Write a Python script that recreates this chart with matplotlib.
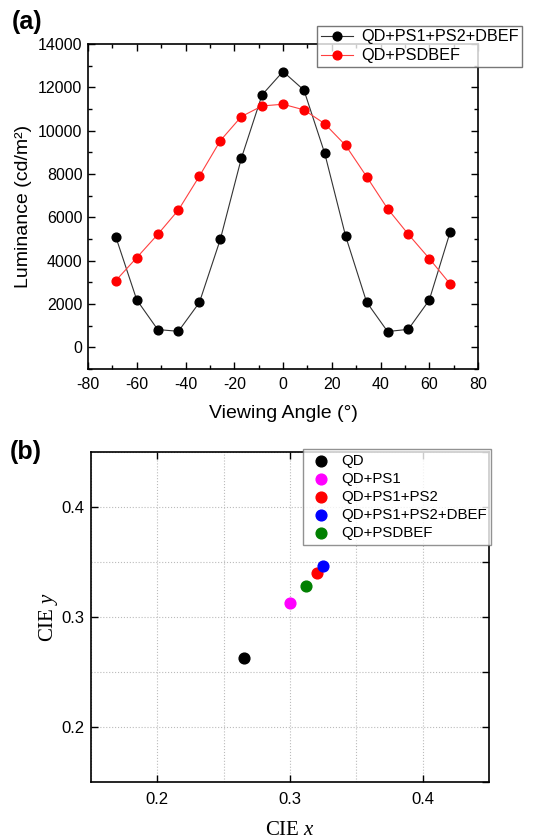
import matplotlib
matplotlib.use("Agg")
import matplotlib.pyplot as plt
from matplotlib.ticker import MultipleLocator

plt.rcParams['font.family'] = ['Liberation Sans', 'DejaVu Sans']
plt.rcParams['axes.unicode_minus'] = False
plt.rcParams['mathtext.fontset'] = 'custom'
plt.rcParams['mathtext.rm'] = 'Liberation Serif'
plt.rcParams['mathtext.it'] = 'Liberation Serif:italic'

# ---- Data (a) ----
angles = [-68.6, -60.0, -51.4, -42.9, -34.3, -25.7, -17.1, -8.6, 0.0,
          8.6, 17.1, 25.7, 34.3, 42.9, 51.4, 60.0, 68.6]
lum_dbef = [5100, 2190, 820, 740, 2070, 4990, 8720, 11650, 12730,
            11870, 8960, 5130, 2090, 730, 830, 2180, 5330]
lum_psdbef = [3080, 4140, 5210, 6340, 7900, 9540, 10650, 11140, 11220,
              10960, 10320, 9320, 7880, 6400, 5220, 4100, 2920]
series_a = ["QD+PS1+PS2+DBEF", "QD+PSDBEF"]

# ---- Data (b) ----
cie_labels = ["QD", "QD+PS1", "QD+PS1+PS2", "QD+PS1+PS2+DBEF", "QD+PSDBEF"]
cie_x = [0.265, 0.2997, 0.3207, 0.3245, 0.3123]
cie_y = [0.2625, 0.3125, 0.3397, 0.3464, 0.3279]
cie_colors = ["black", "magenta", "red", "blue", "green"]

fig = plt.figure(figsize=(5.39, 8.39), dpi=100)

# ---------- panel (a) ----------
ax1 = fig.add_axes([88/539, 1-369/839, 390/539, 325/839])
ax1.plot(angles, lum_dbef, '-', color='#333333', lw=0.8, marker='o',
         markersize=6.3, markerfacecolor='black', markeredgecolor='black',
         label=series_a[0])
ax1.plot(angles, lum_psdbef, '-', color='#ff4040', lw=0.8, marker='o',
         markersize=6.3, markerfacecolor='red', markeredgecolor='red',
         label=series_a[1])
ax1.set_xlim(-80, 80)
ax1.set_ylim(-1000, 14000)
ax1.xaxis.set_major_locator(MultipleLocator(20))
ax1.xaxis.set_minor_locator(MultipleLocator(10))
ax1.yaxis.set_major_locator(MultipleLocator(2000))
ax1.yaxis.set_minor_locator(MultipleLocator(1000))
ax1.tick_params(which='both', direction='in', top=True, right=True,
                labelsize=11.5, width=1.0)
ax1.tick_params(which='major', length=5)
ax1.tick_params(which='minor', length=3)
ax1.tick_params(axis='x', which='both', pad=6)
ax1.tick_params(axis='y', which='both', pad=4)
for s in ax1.spines.values():
    s.set_linewidth(1.2)
ax1.set_xlabel("Viewing Angle (°)", fontsize=14, labelpad=9)
ax1.set_ylabel("Luminance (cd/m²)", fontsize=14, labelpad=4)
leg1 = ax1.legend(loc='upper right', bbox_to_anchor=(522/539, 1-26/839),
                  bbox_transform=fig.transFigure, fontsize=11.7, frameon=True,
                  fancybox=False, edgecolor='#555555', borderpad=0.2,
                  handlelength=2.0, handletextpad=0.5, labelspacing=0.25,
                  borderaxespad=0)
leg1.get_frame().set_linewidth(1.0)
fig.text(12/539, 1-22/839, "(a)", fontsize=18, fontweight='bold',
         va='center', ha='left')

# ---------- panel (b) ----------
ax2 = fig.add_axes([91/539, 1-782/839, 398/539, 330/839])
for xv, yv, c, lab in zip(cie_x, cie_y, cie_colors, cie_labels):
    ax2.scatter([xv], [yv], s=60, color=c, label=lab, zorder=3)
ax2.set_xlim(0.15, 0.45)
ax2.set_ylim(0.15, 0.45)
ax2.set_xticks([0.2, 0.3, 0.4])
ax2.set_yticks([0.2, 0.3, 0.4])
ax2.set_xticks([0.15, 0.25, 0.35, 0.45], minor=True)
ax2.set_yticks([0.15, 0.25, 0.35, 0.45], minor=True)
ax2.grid(True, which='both', linestyle=':', color='#bbbbbb', lw=0.8)
ax2.set_axisbelow(True)
ax2.tick_params(which='major', direction='in', top=True, right=True,
                labelsize=12, length=5, width=1.0)
ax2.tick_params(axis='x', which='major', pad=7)
ax2.tick_params(axis='y', which='major', pad=5)
ax2.tick_params(which='minor', direction='in', left=False, bottom=False,
                top=False, right=True, length=5, width=1.0)
for s in ax2.spines.values():
    s.set_linewidth(1.2)
ax2.set_xlabel("CIE $\\mathit{x}$", fontsize=15, family=['Liberation Serif', 'DejaVu Serif'],
               labelpad=10)
ax2.set_ylabel("CIE $\\mathit{y}$", fontsize=15, family=['Liberation Serif', 'DejaVu Serif'],
               labelpad=1)
leg2 = ax2.legend(loc='upper right', bbox_to_anchor=(491/539, 1-449/839),
                  bbox_transform=fig.transFigure, fontsize=10.8, frameon=True,
                  fancybox=False, edgecolor='#777777', borderpad=0.3,
                  handlelength=1.75, handletextpad=0.45, labelspacing=0.28,
                  borderaxespad=0, scatterpoints=1)
leg2.get_frame().set_linewidth(1.0)
leg2.set_zorder(5)
fig.text(10/539, 1-452/839, "(b)", fontsize=18, fontweight='bold',
         va='center', ha='left')

fig.savefig("out.png", dpi=100)
